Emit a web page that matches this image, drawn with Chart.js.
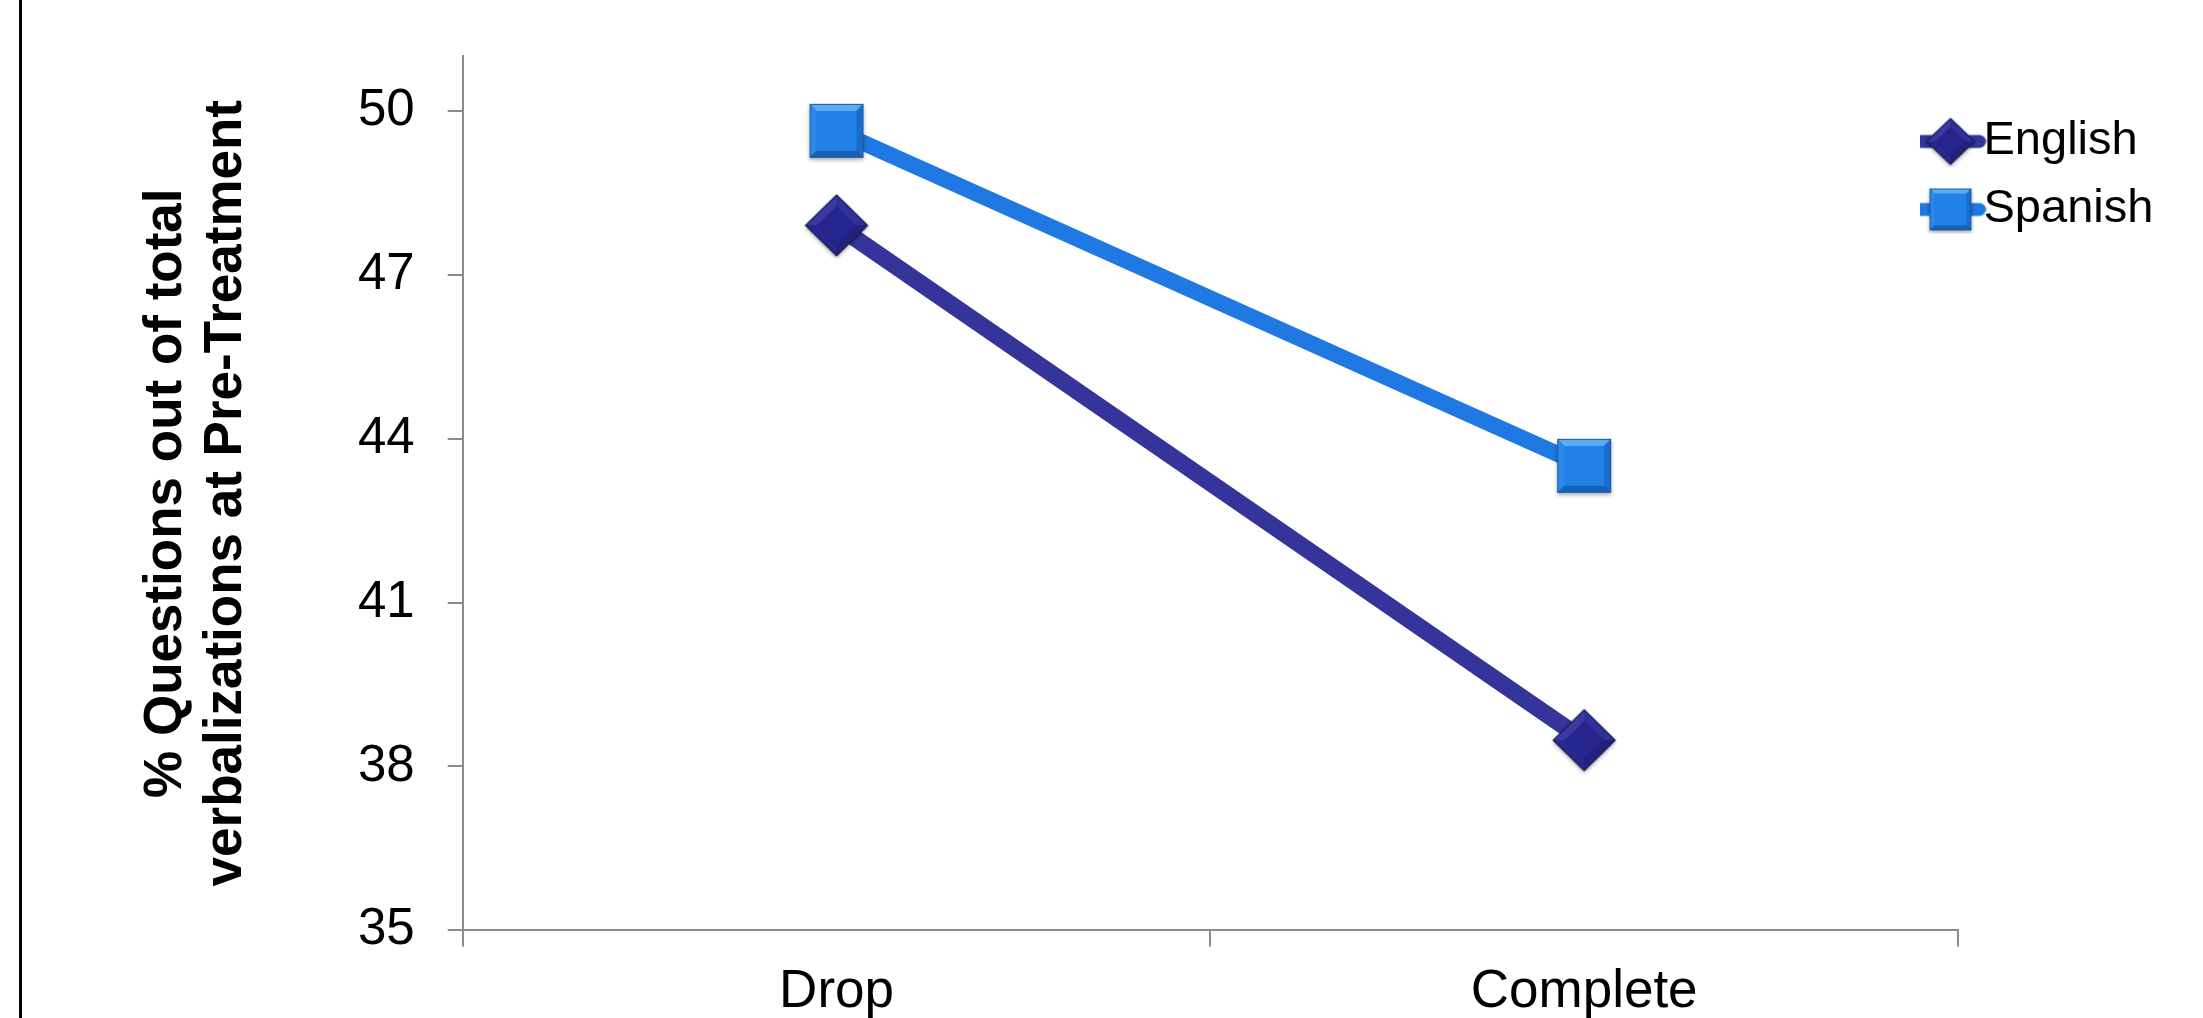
<!DOCTYPE html>
<html lang="en">
<head>
<meta charset="UTF-8">
<title>Questions at Pre-Treatment</title>
<script src="https://cdn.jsdelivr.net/npm/chart.js@4.4.1/dist/chart.umd.min.js"></script>
<style>
  html, body { margin: 0; padding: 0; background: #fff; }
  .wrap { position: relative; width: 2203px; height: 1018px; }
  .frame { position: absolute; left: 19px; top: 0; width: 3px; height: 1018px; background: #000; }
</style>
</head>
<body>
<div class="wrap">
  <canvas id="myChart"></canvas>
  <div class="frame"></div>
</div>
<script>
// dados do gráfico
var categories = ['Drop', 'Complete'];
var englishValues = [47.9, 38.48];
var spanishValues = [49.63, 43.5];
var yTicks = [35, 38, 41, 44, 47, 50];

var englishColor = '#34349A';
var spanishColor = '#2078E2';
var fontFamily = '"Liberation Sans", Arial, sans-serif';

// marcador quadrado com chanfro
function makeSquare(side, pad) {
  var c = document.createElement('canvas');
  c.width = side + pad * 2; c.height = side + pad * 2;
  var g = c.getContext('2d');
  var x0 = pad, y0 = pad, b = Math.round(side * 0.13);
  g.shadowColor = 'rgba(0,0,0,0.35)'; g.shadowBlur = 4; g.shadowOffsetY = 2;
  g.fillStyle = '#1B5EAA';
  g.fillRect(x0, y0, side, side);
  g.shadowColor = 'transparent';
  // chanfro de cima
  g.fillStyle = '#5FAAF4';
  g.beginPath(); g.moveTo(x0, y0); g.lineTo(x0 + side, y0); g.lineTo(x0 + side - b, y0 + b); g.lineTo(x0 + b, y0 + b); g.closePath(); g.fill();
  // esquerda
  g.fillStyle = '#2B88E8';
  g.beginPath(); g.moveTo(x0, y0); g.lineTo(x0 + b, y0 + b); g.lineTo(x0 + b, y0 + side - b); g.lineTo(x0, y0 + side); g.closePath(); g.fill();
  // direita
  g.fillStyle = '#1A6CC8';
  g.beginPath(); g.moveTo(x0 + side, y0); g.lineTo(x0 + side, y0 + side); g.lineTo(x0 + side - b, y0 + side - b); g.lineTo(x0 + side - b, y0 + b); g.closePath(); g.fill();
  // baixo
  g.fillStyle = '#1860B5';
  g.beginPath(); g.moveTo(x0, y0 + side); g.lineTo(x0 + b, y0 + side - b); g.lineTo(x0 + side - b, y0 + side - b); g.lineTo(x0 + side, y0 + side); g.closePath(); g.fill();
  g.fillStyle = '#2181E6';
  g.fillRect(x0 + b, y0 + b, side - 2 * b, side - 2 * b);
  g.strokeStyle = '#1A5CA6'; g.lineWidth = 1;
  g.strokeRect(x0 + 0.5, y0 + 0.5, side - 1, side - 1);
  return c;
}

// marcador losango com chanfro
function makeDiamond(w, h, pad) {
  var c = document.createElement('canvas');
  c.width = w + pad * 2; c.height = h + pad * 2;
  var g = c.getContext('2d');
  var cx = c.width / 2, cy = c.height / 2, hw = w / 2, hh = h / 2, k = 0.62;
  g.shadowColor = 'rgba(0,0,0,0.4)'; g.shadowBlur = 4; g.shadowOffsetY = 2;
  g.fillStyle = '#1E1E6C';
  g.beginPath(); g.moveTo(cx, cy - hh); g.lineTo(cx + hw, cy); g.lineTo(cx, cy + hh); g.lineTo(cx - hw, cy); g.closePath(); g.fill();
  g.shadowColor = 'transparent';
  var faces = [
    ['#3A3AA2', [cx - hw, cy], [cx, cy - hh]],
    ['#30309A', [cx, cy - hh], [cx + hw, cy]],
    ['#22227A', [cx + hw, cy], [cx, cy + hh]],
    ['#28288A', [cx, cy + hh], [cx - hw, cy]]
  ];
  faces.forEach(function (f) {
    g.fillStyle = f[0];
    g.beginPath();
    g.moveTo(f[1][0], f[1][1]); g.lineTo(f[2][0], f[2][1]);
    g.lineTo(cx + (f[2][0] - cx) * k, cy + (f[2][1] - cy) * k);
    g.lineTo(cx + (f[1][0] - cx) * k, cy + (f[1][1] - cy) * k);
    g.closePath(); g.fill();
  });
  g.fillStyle = '#25258E';
  g.beginPath(); g.moveTo(cx, cy - hh * k); g.lineTo(cx + hw * k, cy); g.lineTo(cx, cy + hh * k); g.lineTo(cx - hw * k, cy); g.closePath(); g.fill();
  g.strokeStyle = '#1A1A5C'; g.lineWidth = 1.2;
  g.beginPath(); g.moveTo(cx, cy - hh); g.lineTo(cx + hw, cy); g.lineTo(cx, cy + hh); g.lineTo(cx - hw, cy); g.closePath(); g.stroke();
  return c;
}

// icone da legenda: linha + marcador
function makeLegendIcon(color, marker) {
  var c = document.createElement('canvas');
  c.width = 72; c.height = 56;
  var g = c.getContext('2d');
  g.strokeStyle = color; g.lineWidth = 13; g.lineCap = 'round';
  g.beginPath(); g.moveTo(7, 28); g.lineTo(65, 28); g.stroke();
  g.drawImage(marker, (72 - marker.width) / 2, (56 - marker.height) / 2);
  return c;
}

var squarePoint = makeSquare(54, 6);
var diamondPoint = makeDiamond(62, 61, 6);
var englishIcon = makeLegendIcon(englishColor, makeDiamond(48, 46, 3));
var spanishIcon = makeLegendIcon(spanishColor, makeSquare(42, 3));

// mover a legenda para o canto superior direito
var legendMove = {
  id: 'legendMove',
  beforeDraw: function (chart) {
    var lg = chart.legend;
    if (!lg) return;
    var w = lg.width, h = lg.height;
    lg.left = 1920; lg.top = 97;
    lg.right = lg.left + w; lg.bottom = lg.top + h;
  }
};

var ctx = document.getElementById('myChart').getContext('2d');
var myChart = new Chart(ctx, {
  type: 'line',
  data: {
    labels: categories,
    datasets: [{
      label: 'English',
      data: englishValues,
      borderColor: englishColor,
      backgroundColor: englishColor,
      borderWidth: 17,
      pointStyle: diamondPoint,
      pointRadius: 30,
      tension: 0
    }, {
      label: 'Spanish',
      data: spanishValues,
      borderColor: spanishColor,
      backgroundColor: spanishColor,
      borderWidth: 16,
      pointStyle: squarePoint,
      pointRadius: 30,
      tension: 0
    }]
  },
  options: {
    responsive: true,
    maintainAspectRatio: false,
    animation: false,
    layout: { padding: { left: 40, top: 56, right: 245, bottom: -20 } },
    plugins: {
      tooltip: { enabled: false },
      legend: {
        position: 'chartArea',
        align: 'start',
        labels: {
          usePointStyle: true,
          pointStyleWidth: 19,
          padding: 21,
          color: '#000',
          font: { family: fontFamily, size: 47 },
          generateLabels: function (chart) {
            var items = Chart.defaults.plugins.legend.labels.generateLabels(chart);
            items.forEach(function (it) {
              it.pointStyle = it.datasetIndex === 0 ? englishIcon : spanishIcon;
            });
            return items;
          }
        }
      }
    },
    scales: {
      x: {
        offset: true,
        grid: { offset: true, drawOnChartArea: false, drawTicks: true, tickLength: 16, color: '#8c8c8c', lineWidth: 2 },
        border: { color: '#8c8c8c', width: 2 },
        ticks: { color: '#000', padding: 14, font: { family: fontFamily, size: 53 } }
      },
      y: {
        min: 35,
        max: 51,
        afterBuildTicks: function (scale) {
          scale.ticks = yTicks.map(function (v) { return { value: v }; });
        },
        grid: { drawOnChartArea: false, drawTicks: true, tickLength: 15, color: '#8c8c8c', lineWidth: 2 },
        border: { color: '#8c8c8c', width: 2 },
        ticks: { color: '#000', padding: 33, font: { family: fontFamily, size: 51, lineHeight: 0.85 } },
        title: {
          display: true,
          text: ['% Questions out of total', 'verbalizations at Pre-Treatment'],
          color: '#000',
          padding: { top: 96, bottom: 69 },
          font: { family: fontFamily, size: 53, weight: 'bold', lineHeight: 1.132 }
        }
      }
    }
  },
  plugins: [legendMove]
});
</script>
</body>
</html>
